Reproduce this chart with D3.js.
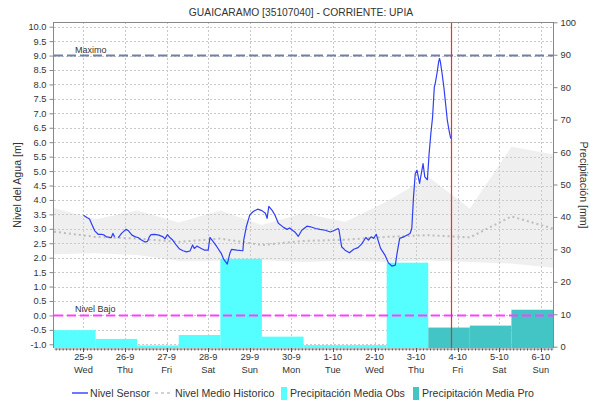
<!DOCTYPE html>
<html>
<head>
<meta charset="utf-8">
<script src="https://cdn.jsdelivr.net/npm/d3@7"></script>
<style>
  body { margin: 0; background: #fff; }
  svg { display: block; }
  text { font-family: "Liberation Sans", Arial, sans-serif; fill: #333; }
</style>
</head>
<body>
<svg id="chart" width="589" height="404"></svg>
<script>
// ---- data ----
const chartTitle = "GUAICARAMO [35107040] - CORRIENTE: UPIA";

const dayTicks = ["2024-09-25", "2024-09-26", "2024-09-27", "2024-09-28", "2024-09-29", "2024-09-30",
                  "2024-10-01", "2024-10-02", "2024-10-03", "2024-10-04", "2024-10-05", "2024-10-06"];
const dayLabels = ["25-9", "26-9", "27-9", "28-9", "29-9", "30-9", "1-10", "2-10", "3-10", "4-10", "5-10", "6-10"];
const weekdayLabels = ["Wed", "Thu", "Fri", "Sat", "Sun", "Mon", "Tue", "Wed", "Thu", "Fri", "Sat", "Sun"];

const levelTicks = [-1.0, -0.5, 0.0, 0.5, 1.0, 1.5, 2.0, 2.5, 3.0, 3.5, 4.0, 4.5, 5.0,
                    5.5, 6.0, 6.5, 7.0, 7.5, 8.0, 8.5, 9.0, 9.5, 10.0];
const precipTicks = [0, 10, 20, 30, 40, 50, 60, 70, 80, 90, 100];

// historical level envelope, sampled at the 07:00 day boundary
const histTime = ["2024-09-24 07:00", "2024-09-25 07:00", "2024-09-26 07:00", "2024-09-27 07:00",
                  "2024-09-28 07:00", "2024-09-29 07:00", "2024-09-30 07:00", "2024-10-01 07:00",
                  "2024-10-02 07:00", "2024-10-03 07:00", "2024-10-04 07:00", "2024-10-05 07:00",
                  "2024-10-06 07:00"];
const histUpper  = [3.72, 3.33, 3.63, 3.22, 3.63, 3.13, 3.55, 3.24, 3.95, 4.80, 3.70, 5.84, 5.58];
const histLower  = [2.12, 2.15, 2.09, 1.89, 1.89, 1.91, 1.85, 1.90, 1.85, 1.90, 1.85, 1.80, 1.65];
const histMedian = [2.90, 2.72, 2.66, 2.55, 2.66, 2.44, 2.58, 2.62, 2.72, 2.78, 2.70, 3.43, 3.01];

// daily precipitation (each day runs from 07:00 of the previous day to 07:00)
const obsDays = ["2024-09-25", "2024-09-26", "2024-09-27", "2024-09-28", "2024-09-29",
                 "2024-09-30", "2024-10-01", "2024-10-02", "2024-10-03"];
const obsPrecip = [5.1, 2.4, 0.4, 3.6, 27.1, 3.1, 0.5, 0.5, 25.9];
const proDays = ["2024-10-04", "2024-10-05", "2024-10-06"];
const proPrecip = [5.9, 6.5, 11.4];

// sensor water level (null marks a gap in the record)
const sensorTime = [
  "2024-09-25 00:00", "2024-09-25 02:00", "2024-09-25 03:30", "2024-09-25 05:00", "2024-09-25 06:30",
  "2024-09-25 08:30", "2024-09-25 10:30", "2024-09-25 12:00", "2024-09-25 13:30", "2024-09-25 16:00",
  "2024-09-25 17:00", "2024-09-25 18:00", "2024-09-25 19:00", "2024-09-25 20:00", "2024-09-25 22:00",
  "2024-09-26 00:30", "2024-09-26 02:00", "2024-09-26 04:00", "2024-09-26 06:00", "2024-09-26 07:30",
  "2024-09-26 09:30", "2024-09-26 11:30", "2024-09-26 13:00", "2024-09-26 14:00", "2024-09-26 15:00",
  "2024-09-26 17:00", "2024-09-26 19:30", "2024-09-26 22:00", "2024-09-26 23:00", "2024-09-27 00:30",
  "2024-09-27 02:00", "2024-09-27 03:30", "2024-09-27 05:30", "2024-09-27 07:30", "2024-09-27 09:30",
  "2024-09-27 11:30", "2024-09-27 13:30", "2024-09-27 15:00", "2024-09-27 16:00", "2024-09-27 17:30",
  "2024-09-27 19:00", "2024-09-27 20:00", "2024-09-27 22:00", "2024-09-28 00:00", "2024-09-28 01:00",
  "2024-09-28 03:00", "2024-09-28 05:00", "2024-09-28 07:30", "2024-09-28 09:00", "2024-09-28 11:00",
  "2024-09-28 12:30", "2024-09-28 13:30", "2024-09-28 16:30", "2024-09-28 20:00", "2024-09-28 20:30",
  "2024-09-28 22:00", "2024-09-29 00:00", "2024-09-29 02:00", "2024-09-29 04:30", "2024-09-29 07:00",
  "2024-09-29 09:00", "2024-09-29 10:00", "2024-09-29 11:00", "2024-09-29 13:00", "2024-09-29 14:30",
  "2024-09-29 16:30", "2024-09-29 19:30", "2024-09-29 21:30", "2024-09-29 23:00", "2024-09-30 02:00",
  "2024-09-30 04:00", "2024-09-30 06:00", "2024-09-30 09:00", "2024-09-30 11:00", "2024-09-30 14:00",
  "2024-09-30 16:30", "2024-09-30 19:30", "2024-09-30 22:30", "2024-10-01 01:00", "2024-10-01 03:00",
  "2024-10-01 03:30", "2024-10-01 05:00", "2024-10-01 07:00", "2024-10-01 09:30", "2024-10-01 12:00",
  "2024-10-01 14:30", "2024-10-01 16:30", "2024-10-01 19:00", "2024-10-01 20:30", "2024-10-01 22:00",
  "2024-10-01 23:30", "2024-10-02 01:00", "2024-10-02 02:00", "2024-10-02 03:30", "2024-10-02 06:00",
  "2024-10-02 08:00", "2024-10-02 10:00", "2024-10-02 12:00", "2024-10-02 13:00", "2024-10-02 14:30",
  "2024-10-02 17:30", "2024-10-02 20:30", "2024-10-02 21:30", "2024-10-02 22:30", "2024-10-02 23:30",
  "2024-10-03 00:30", "2024-10-03 02:00", "2024-10-03 04:00", "2024-10-03 05:00", "2024-10-03 06:30",
  "2024-10-03 07:30", "2024-10-03 08:30", "2024-10-03 09:30", "2024-10-03 10:30", "2024-10-03 11:00",
  "2024-10-03 12:00", "2024-10-03 13:00", "2024-10-03 13:30", "2024-10-03 14:00", "2024-10-03 15:00",
  "2024-10-03 16:00", "2024-10-03 17:00", "2024-10-03 18:00", "2024-10-03 19:00", "2024-10-03 20:00"
];
const sensorLevel = [
  3.47, 3.39, 3.34, 3.13, 2.93, 2.81, 2.81, 2.78, 2.72, 2.69,
  2.84, 2.72, null, 2.69, 2.84, 2.98, 2.93, 2.78, 2.72, 2.70,
  2.61, 2.54, 2.57, 2.72, 2.80, 2.81, 2.78, 2.72, 2.65, 2.80,
  2.69, 2.61, 2.44, 2.30, 2.24, 2.20, 2.23, 2.44, 2.32, 2.40,
  2.35, 2.32, 2.26, 2.26, 2.70, 2.55, 2.38, 2.15, 1.94, 1.78,
  2.15, 2.29, 2.26, 2.24, 2.61, 3.07, 3.48, 3.60, 3.68, 3.63,
  3.54, 3.36, 3.78, 3.63, 3.48, 3.19, 3.05, 2.98, 3.03, 2.89,
  2.74, 2.95, 3.09, 3.07, 3.01, 2.98, 2.95, 2.89, 2.95, 3.01,
  2.95, 2.38, 2.26, 2.17, 2.29, 2.35, 2.47, 2.70, 2.61, 2.72,
  2.67, 2.81, 2.61, 2.32, 2.09, 1.82, 1.71, 1.74, 2.15, 2.67,
  2.74, 2.84, 3.01, 4.11, 4.91, 5.03, 4.57, 5.26, 4.80, 4.70,
  5.61, 6.30, 6.87, 7.91, 8.03, 8.37, 8.78, 8.90, 8.78, 8.37,
  7.91, 7.34, 6.76, 6.41, 6.12
];

const levelMax = 9.0;
const levelLow = 0.0;
const nowTime = "2024-10-03 20:00";
const rangeStart = "2024-09-24 07:00";
const rangeEnd = "2024-10-06 07:00";

// ---- layout ----
const plot = { left: 54, right: 553, top: 22, bottom: 348 };
const parseTime = d3.timeParse("%Y-%m-%d %H:%M");
const parseDay = d3.timeParse("%Y-%m-%d");

const x = d3.scaleTime()
  .domain([parseTime(rangeStart), parseTime(rangeEnd)])
  .range([plot.left, plot.right]);
const yLevel = d3.scaleLinear().domain([-1, 10]).range([344.3, 26.7]);
const yPrecip = d3.scaleLinear().domain([0, 100]).range([346.7, 22.3]);

const svg = d3.select("#chart");
svg.append("rect").attr("width", 589).attr("height", 404).attr("fill", "#fff");

svg.append("defs").append("clipPath").attr("id", "plot-clip")
  .append("rect")
  .attr("x", plot.left).attr("y", plot.top)
  .attr("width", plot.right - plot.left).attr("height", plot.bottom - plot.top);

const body = svg.append("g").attr("clip-path", "url(#plot-clip)");

// gridlines
const gridColor = "#c8c8c8";
body.append("g").selectAll("line").data(levelTicks).join("line")
  .attr("x1", plot.left).attr("x2", plot.right)
  .attr("y1", d => Math.round(yLevel(d)) + 0.5).attr("y2", d => Math.round(yLevel(d)) + 0.5)
  .attr("stroke", gridColor).attr("stroke-dasharray", "2,2");
body.append("g").selectAll("line").data(dayTicks).join("line")
  .attr("x1", d => Math.round(x(parseDay(d))) + 0.5).attr("x2", d => Math.round(x(parseDay(d))) + 0.5)
  .attr("y1", plot.top).attr("y2", plot.bottom)
  .attr("stroke", gridColor).attr("stroke-dasharray", "2,2");

// historical range band and median
const hist = histTime.map((t, i) => ({ t: parseTime(t), hi: histUpper[i], lo: histLower[i], med: histMedian[i] }));
body.append("path").datum(hist)
  .attr("d", d3.area().x(d => x(d.t)).y0(d => yLevel(d.lo)).y1(d => yLevel(d.hi)))
  .attr("fill", "#cfcfcf").attr("fill-opacity", 0.33);
body.append("path").datum(hist)
  .attr("d", d3.line().x(d => x(d.t)).y(d => yLevel(d.med)))
  .attr("fill", "none").attr("stroke", "#bdbdbd").attr("stroke-width", 2)
  .attr("stroke-dasharray", "2,3");

// precipitation bars
function dayStart(dayStr) { return d3.timeHour.offset(parseDay(dayStr), -17); }
function dayEnd(dayStr) { return d3.timeHour.offset(parseDay(dayStr), 7); }
function drawBars(days, values, color) {
  body.append("g").selectAll("rect").data(days).join("rect")
    .attr("x", d => x(dayStart(d)))
    .attr("width", d => x(dayEnd(d)) - x(dayStart(d)))
    .attr("y", (d, i) => yPrecip(values[i]))
    .attr("height", (d, i) => plot.bottom - yPrecip(values[i]))
    .attr("fill", color);
}
drawBars(obsDays, obsPrecip, "#55ffff");
drawBars(proDays, proPrecip, "#43c5c5");

// reference levels
body.append("line")
  .attr("x1", plot.left).attr("x2", plot.right)
  .attr("y1", yLevel(levelMax)).attr("y2", yLevel(levelMax))
  .attr("stroke", "#7180a6").attr("stroke-width", 2).attr("stroke-dasharray", "9,4");
body.append("line")
  .attr("x1", plot.left).attr("x2", plot.right)
  .attr("y1", yLevel(levelLow)).attr("y2", yLevel(levelLow))
  .attr("stroke", "#ff40ff").attr("stroke-width", 2).attr("stroke-dasharray", "9,4");
svg.append("text").attr("x", 75).attr("y", yLevel(levelMax) - 3)
  .attr("font-size", 9).text("Maximo");
svg.append("text").attr("x", 75).attr("y", yLevel(levelLow) - 3)
  .attr("font-size", 9).text("Nivel Bajo");

// sensor level line
const sensor = sensorTime.map((t, i) => ({ t: parseTime(t), v: sensorLevel[i] }));
body.append("path").datum(sensor)
  .attr("d", d3.line().defined(d => d.v !== null).x(d => x(d.t)).y(d => yLevel(d.v)))
  .attr("fill", "none").attr("stroke", "#2f3ff2").attr("stroke-width", 1.2)
  .attr("stroke-linejoin", "round");

// current time marker
const nowX = Math.round(x(parseTime(nowTime))) + 0.5;
svg.append("path")
  .attr("d", `M${nowX},${plot.top}V${plot.bottom}`)
  .style("stroke", "rgb(255,40,40)").style("stroke-width", "1.2px").style("fill", "none");

// plot frame
svg.append("line").attr("x1", plot.left).attr("x2", plot.right)
  .attr("y1", plot.top + 0.5).attr("y2", plot.top + 0.5).attr("stroke", "#888");

// axes
const axisColor = "#888";
const leftAxis = svg.append("g").attr("transform", `translate(${plot.left - 0.5},0)`)
  .call(d3.axisLeft(yLevel).tickValues(levelTicks).tickSize(4).tickSizeOuter(0)
    .tickFormat(d => d.toFixed(1)));
leftAxis.select(".domain").attr("d", `M0,${plot.top}V${plot.bottom}`);

const rightAxis = svg.append("g").attr("transform", `translate(${plot.right + 0.5},0)`)
  .call(d3.axisRight(yPrecip).tickValues(precipTicks).tickSize(4).tickSizeOuter(0));
rightAxis.select(".domain").attr("d", `M0,${plot.top}V${plot.bottom}`);

const bottomAxis = svg.append("g").attr("transform", `translate(0,${plot.bottom + 0.5})`)
  .call(d3.axisBottom(x).tickValues(d3.timeHour.every(2).range(x.domain()[0], x.domain()[1]))
    .tickSize(2).tickSizeOuter(0).tickFormat(""));

[leftAxis, rightAxis, bottomAxis].forEach(g => {
  g.selectAll(".domain").attr("stroke", axisColor);
  g.selectAll(".tick line").attr("stroke", axisColor);
  g.selectAll("text").attr("font-size", 9.3).attr("fill", "#333")
    .attr("font-family", '"Liberation Sans", Arial, sans-serif');
});
bottomAxis.selectAll(".tick line").attr("stroke", "#555");

// day labels (date and weekday)
const dayLabelG = svg.append("g").attr("font-size", 9.3).attr("text-anchor", "middle");
dayTicks.forEach((d, i) => {
  const px = x(parseDay(d));
  svg.append("line").attr("x1", Math.round(px) + 0.5).attr("x2", Math.round(px) + 0.5)
    .attr("y1", plot.bottom).attr("y2", plot.bottom + 4).attr("stroke", "#555");
  dayLabelG.append("text").attr("x", px).attr("y", 360).text(dayLabels[i]);
  dayLabelG.append("text").attr("x", px).attr("y", 373).text(weekdayLabels[i]);
});

// title and axis titles
svg.append("text").attr("x", 301).attr("y", 16).attr("text-anchor", "middle")
  .attr("font-size", 10.3).text(chartTitle);
svg.append("text").attr("transform", `translate(21,${(plot.top + plot.bottom) / 2}) rotate(-90)`)
  .attr("text-anchor", "middle").attr("font-size", 10.6).text("Nivel del Agua [m]");
svg.append("text").attr("transform", `translate(580,${(plot.top + plot.bottom) / 2}) rotate(90)`)
  .attr("text-anchor", "middle").attr("font-size", 10.6).text("Precipitación [mm]");

// legend
const legendY = 393;
const legend = svg.append("g").attr("font-size", 10.6);
legend.append("line").attr("x1", 72).attr("x2", 88).attr("y1", legendY).attr("y2", legendY)
  .attr("stroke", "#1f2fff").attr("stroke-width", 1.3);
legend.append("text").attr("x", 90).attr("y", legendY + 4).text("Nivel Sensor");
legend.append("line").attr("x1", 155).attr("x2", 172).attr("y1", legendY).attr("y2", legendY)
  .attr("stroke", "#c4c4c4").attr("stroke-width", 1.5).attr("stroke-dasharray", "3,3");
legend.append("text").attr("x", 175).attr("y", legendY + 4).text("Nivel Medio Historico");
legend.append("rect").attr("x", 281).attr("y", legendY - 6).attr("width", 6).attr("height", 13)
  .attr("fill", "#55ffff");
legend.append("text").attr("x", 290).attr("y", legendY + 4).text("Precipitación Media Obs");
legend.append("rect").attr("x", 413).attr("y", legendY - 6).attr("width", 6).attr("height", 13)
  .attr("fill", "#43c5c5");
legend.append("text").attr("x", 422).attr("y", legendY + 4).text("Precipitación Media Pro");
</script>
</body>
</html>
